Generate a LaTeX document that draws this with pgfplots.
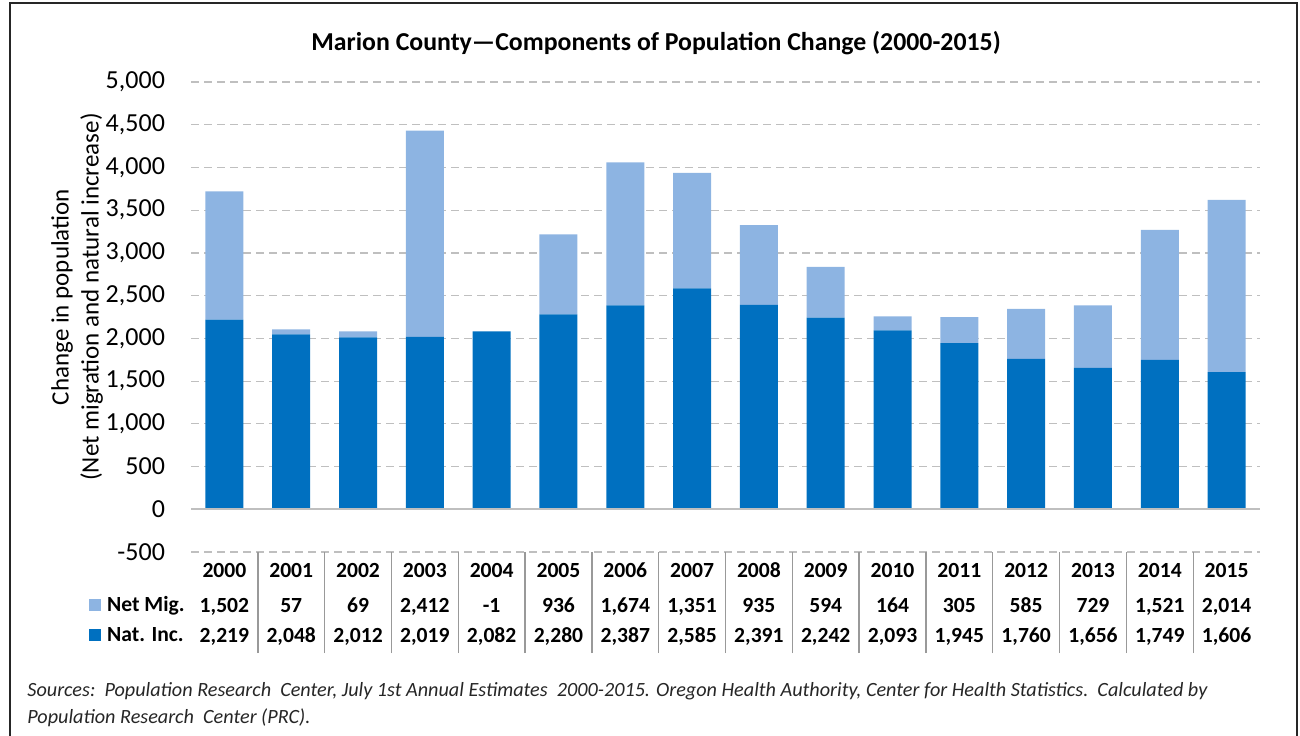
\documentclass[border=0pt]{standalone}
\usepackage{pgfplots}
\pgfplotsset{compat=1.18}
\usepackage{fontspec}
\setmainfont{Carlito}
\definecolor{natinc}{HTML}{0070C0}
\definecolor{netmig}{HTML}{8DB4E2}
\definecolor{gridc}{HTML}{BFBFBF}
\newcommand\tl[3]{\rule{0pt}{9pt}#1\\[2.5pt]\rule{0pt}{9pt}#2\\\rule{0pt}{9pt}#3}
\begin{document}
\begin{tikzpicture}
\useasboundingbox (0,0) rectangle (650pt,-367.5pt);
\begin{scope}[x=0.5pt,y=-0.5pt]
\draw[line width=1pt, black!85] (10,3) rectangle (1297,745);
\node[font=\fontsize{12.9}{15}\selectfont\bfseries] at (656,43) {Marion County—Components of Population Change (2000-2015)};
\node[rotate=90, align=center, font=\fontsize{12.5}{15}\selectfont] at (77,297) {Change in population\\(Net migration and natural increase)};
\node[anchor=north west, align=left, inner sep=0pt, font=\fontsize{10.1}{13.5}\selectfont\itshape, text=black!85] at (27,682) {Sources:\ \ Population Research\ \ Center, July 1st Annual Estimates\ \ 2000-2015. Oregon Health Authority, Center for Health Statistics.\ \ Calculated by\\Population Research\ \ Center (PRC).};
\end{scope}
\begin{axis}[
  at={(95.5pt,-276pt)}, anchor=south west,
  scale only axis, width=534.5pt, height=235pt,
  ybar stacked, bar width=19pt,
  xmin=-0.5, xmax=15.5, ymin=-500, ymax=5000,
  axis line style={draw=none},
  ytick={-500,0,500,...,5000},
  ymajorgrids, grid style={gridc, dash pattern=on 4pt off 2.5pt, line width=0.6pt},
  major tick length=0pt,
  ytick style={draw=none},
  /pgf/number format/assume math mode=true,
  yticklabel style={font=\fontsize{13}{15}\selectfont, /pgf/number format/1000 sep={,}, xshift=-9.5pt},
  xtick={0,...,15},
  xticklabels={
    {\tl{2000}{1,502}{2,219}},
    {\tl{2001}{57}{2,048}},
    {\tl{2002}{69}{2,012}},
    {\tl{2003}{2,412}{2,019}},
    {\tl{2004}{-1}{2,082}},
    {\tl{2005}{936}{2,280}},
    {\tl{2006}{1,674}{2,387}},
    {\tl{2007}{1,351}{2,585}},
    {\tl{2008}{935}{2,391}},
    {\tl{2009}{594}{2,242}},
    {\tl{2010}{164}{2,093}},
    {\tl{2011}{305}{1,945}},
    {\tl{2012}{585}{1,760}},
    {\tl{2013}{729}{1,656}},
    {\tl{2014}{1,521}{1,749}},
    {\tl{2015}{2,014}{1,606}}},
  xticklabel style={align=center, anchor=north, font=\fontsize{10.8}{15}\selectfont\bfseries, yshift=0pt},
  tick align=outside,
  xtick pos=bottom, ytick pos=left,
  minor xtick={0.5,1.5,...,14.5},
  minor tick length=50.5pt,
  minor x tick style={draw=black!40, line width=0.7pt},
  legend style={at={(0,0)}, anchor=north east, xshift=-2pt, yshift=-20.5pt,
    draw=none, fill=none, inner sep=0pt, row sep=3pt, column sep=2pt,
    nodes={inner sep=1pt, text height=8pt, text depth=2pt, font=\fontsize{10.8}{13}\selectfont\bfseries}},
  legend cell align=left,
  reverse legend,
  legend image code/.code={\fill[#1,draw=none] (0pt,-3pt) rectangle (6pt,3pt);},
]
\draw[black!25, line width=0.8pt] (axis cs:-0.5,0) -- (axis cs:15.5,0);
\addplot[fill=natinc, draw=none] coordinates {
(0,2219) (1,2048) (2,2012) (3,2019) (4,2082) (5,2280) (6,2387) (7,2585)
(8,2391) (9,2242) (10,2093) (11,1945) (12,1760) (13,1656) (14,1749) (15,1606)};
\addlegendentry{Nat. Inc.}
\addplot[fill=netmig, draw=none] coordinates {
(0,1502) (1,57) (2,69) (3,2412) (4,-1) (5,936) (6,1674) (7,1351)
(8,935) (9,594) (10,164) (11,305) (12,585) (13,729) (14,1521) (15,2014)};
\addlegendentry{Net Mig.}
\end{axis}
\end{tikzpicture}
\end{document}
